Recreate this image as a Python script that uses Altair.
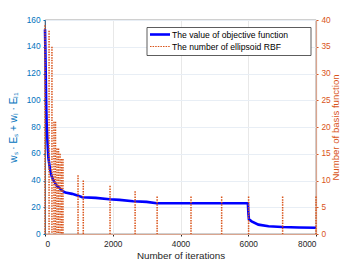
import altair as alt
import pandas as pd

# Objective function curve (left axis)
obj_iter = [0, 10, 20, 30, 40, 50, 75, 100, 150, 200, 250, 300, 350, 400, 500, 600, 800,
            1000, 1100, 1500, 1900, 2200, 2600, 3000, 3300, 4000, 5000, 5990,
            6005, 6020, 6100, 6300, 6600, 7000, 7500, 8000]
obj_val = [153, 140, 122, 105, 92, 82, 68, 57, 48, 43, 40, 38, 36, 35, 32.5, 31, 30,
           28.5, 27.5, 27, 26, 25.5, 24.5, 24, 23, 23, 23, 23,
           15, 11, 9.5, 7, 5.8, 5.2, 4.9, 4.7]

# Number of ellipsoid RBF (right axis)
rbf_iter = [0, 120, 205, 265, 310, 355, 400, 445, 490, 530,
            975, 1130, 1920, 2660, 3310, 4310, 5215, 6010, 7015, 8000]
rbf_cnt = [39, 38, 35, 21, 21, 16, 16, 15, 14, 14,
           11, 10, 9, 8, 7, 7, 7, 7, 7, 7]

x_ticks = list(range(0, 8001, 1000))
left_ticks = list(range(0, 161, 20))
right_ticks = list(range(0, 41, 5))

BLUE = "#0000ff"
AXBLUE = "#0072BD"
ORANGE = "#D95319"
DARK = "#262626"
FONT = "Liberation Sans"

obj_df = pd.DataFrame({"iter": obj_iter, "val": obj_val})
rbf_df = pd.DataFrame({"iter": rbf_iter, "cnt": rbf_cnt})

xscale = alt.Scale(domain=[0, 8000], nice=False, zero=False)

line = alt.Chart(obj_df).mark_line(color=BLUE, strokeWidth=2.6).encode(
    x=alt.X("iter:Q", scale=xscale,
            axis=alt.Axis(values=x_ticks, format="d", title="Number of iterations", grid=True,
                          gridColor="#e8e8e8", labelColor=DARK, titleColor=DARK,
                          labelFontSize=8.3, titleFontSize=9.8, titleFontWeight="normal",
                          domainColor="#d9a58f", domainWidth=1.2, tickColor=DARK, tickSize=2,
                          labelPadding=3, titlePadding=3, labelFont=FONT, titleFont=FONT)),
    y=alt.Y("val:Q", scale=alt.Scale(domain=[0, 160], nice=False),
            axis=alt.Axis(values=left_ticks, title="wₛ · Eₛ + wₗ · Eₗ₁", grid=True,
                          gridColor="#e8eef5", labelColor=AXBLUE, titleColor=AXBLUE,
                          labelFontSize=8.3, titleFontSize=10, titleFontWeight="normal",
                          domainColor="#4a6a8a", tickColor=AXBLUE, tickSize=2,
                          labelPadding=3, titlePadding=8, labelFont=FONT, titleFont=FONT)),
)

rules = alt.Chart(rbf_df).mark_rule(color=ORANGE, strokeWidth=1.5, strokeDash=[1.5, 1.1]).encode(
    x=alt.X("iter:Q", scale=xscale),
    y=alt.Y("cnt:Q", scale=alt.Scale(domain=[0, 40], nice=False),
            axis=alt.Axis(values=right_ticks, orient="right", title="Number of basis function",
                          grid=False, labelColor=ORANGE, titleColor=ORANGE, titleAngle=270,
                          titleBaseline="bottom",
                          labelFontSize=8.3, titleFontSize=9.6, titleFontWeight="normal",
                          domainColor="#d9a58f", domainWidth=1.2, tickColor=ORANGE, tickSize=2,
                          labelPadding=3, titlePadding=10, labelFont=FONT, titleFont=FONT)),
    y2=alt.datum(0),
)

one = pd.DataFrame({"a": [0]})
box = alt.Chart(one).mark_rect(fill="white", stroke="#333333", strokeWidth=0.8).encode(
    x=alt.value(102), x2=alt.value(266), y=alt.value(7.5), y2=alt.value(35.5))
sym1 = alt.Chart(one).mark_rule(color=BLUE, strokeWidth=2.6).encode(
    x=alt.value(105), x2=alt.value(125), y=alt.value(14.5))
sym2 = alt.Chart(one).mark_rule(color=ORANGE, strokeWidth=1.2, strokeDash=[1.5, 1.1]).encode(
    x=alt.value(105), x2=alt.value(125), y=alt.value(26.5))
txt1 = alt.Chart(one).mark_text(align="left", baseline="middle", fontSize=8.6, font=FONT,
                                color="#000000").encode(
    x=alt.value(127), y=alt.value(14.5), text=alt.value("The value of objective function"))
txt2 = alt.Chart(one).mark_text(align="left", baseline="middle", fontSize=8.6, font=FONT,
                                color="#000000").encode(
    x=alt.value(127), y=alt.value(26.5), text=alt.value("The number of ellipsoid RBF"))

chart = alt.layer(line, rules, box, sym1, sym2, txt1, txt2).resolve_scale(
    y="independent"
).properties(
    width=271, height=214,
    autosize=alt.AutoSizeParams(type="none"),
    padding={"left": 37, "top": 12, "right": 26, "bottom": 27},
).configure_view(stroke=DARK, strokeWidth=0.7)

chart.save("out.html", embed_options={"renderer": "svg", "actions": False})
